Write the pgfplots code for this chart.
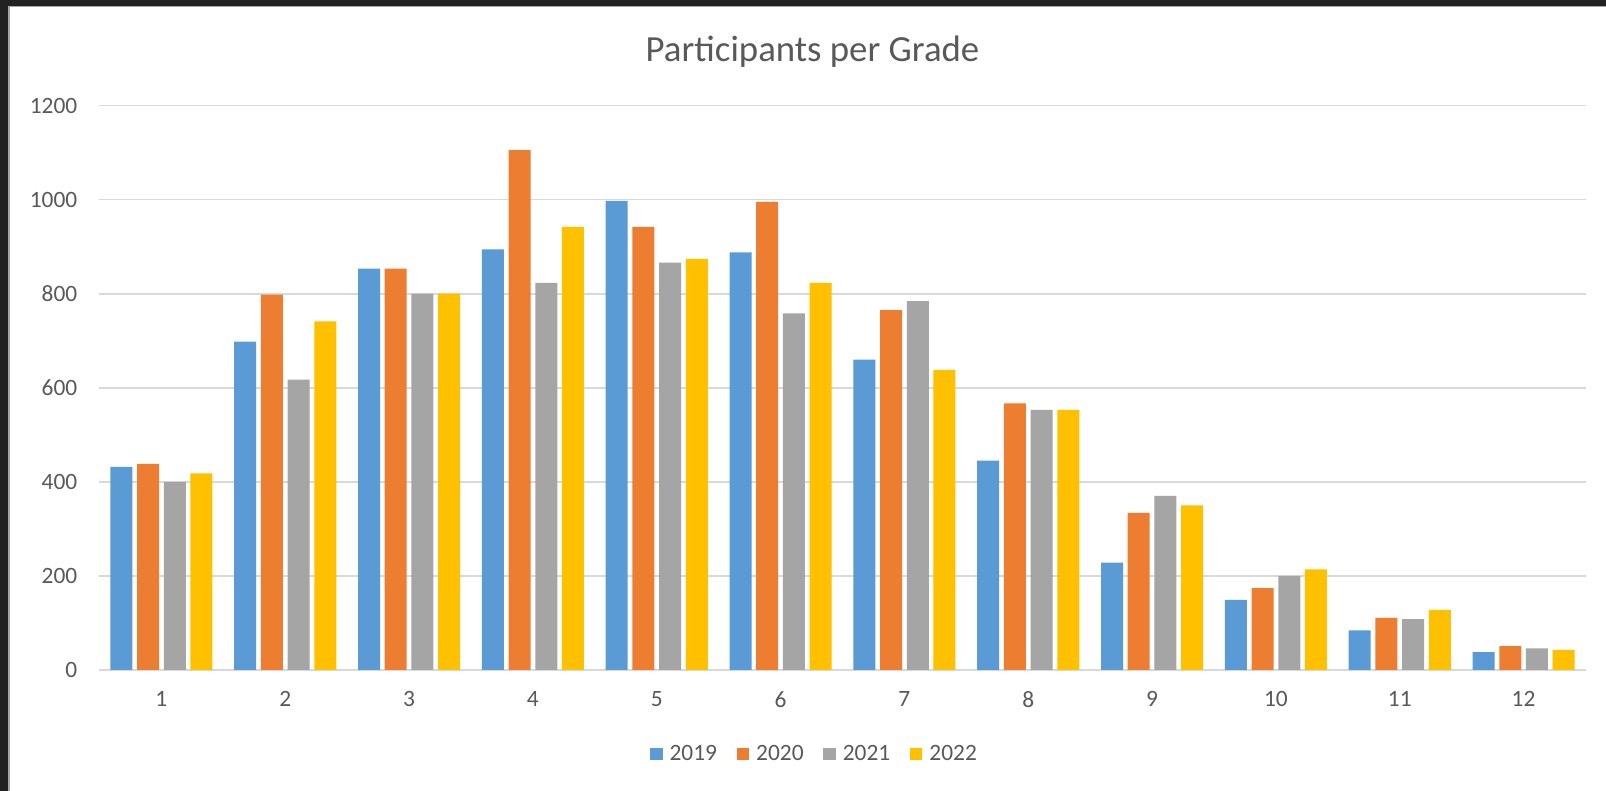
\documentclass[border=0pt]{standalone}
\usepackage{fontspec}
\setmainfont{Carlito}
\usepackage{pgfplots}
\pgfplotsset{compat=1.18}
\definecolor{cblue}{HTML}{5B9BD5}
\definecolor{corange}{HTML}{ED7D31}
\definecolor{cgray}{HTML}{A5A5A5}
\definecolor{cyellow}{HTML}{FFC000}
\definecolor{ctext}{HTML}{595959}
\definecolor{cgrid}{HTML}{D9D9D9}
\definecolor{cdark}{HTML}{222222}
\pgfplotsset{sqlegend/.style={legend image code/.code={\fill[##1] (0pt,-3.15pt) rectangle (6.3pt,3.15pt);}}}
\begin{document}
\begin{tikzpicture}
% background (white chart area with dark screenshot border at top and left)
\fill[white] (0,0) rectangle (803pt,395.5pt);
\fill[cdark] (0,0) rectangle (4pt,395.5pt);
\fill[cdark] (0,392.5pt) rectangle (803pt,395.5pt);
\fill[gray!70] (4pt,0) rectangle (5pt,392.5pt);
\fill[gray!70] (4pt,392pt) rectangle (803pt,392.5pt);
\node[anchor=base, text=ctext, font=\fontsize{18.4}{22}\selectfont] at (406.25pt,364.5pt) {Participants per Grade};
\begin{axis}[
  at={(49.75pt,60.5pt)}, anchor=south west,
  scale only axis, width=743pt, height=282.25pt,
  ybar=2.35pt, bar width=11pt,
  xmin=0.5, xmax=12.5, ymin=0, ymax=1200,
  xtick={1,...,12}, ytick={0,200,...,1200},
  axis lines*=left,
  y axis line style={draw=none},
  x axis line style={draw=cgrid, line width=0.9pt},
  major tick length=0pt,
  ymajorgrids, grid style={draw=cgrid, line width=0.9pt},
  /pgf/number format/assume math mode=true,
  /pgf/number format/1000 sep={},
  tick label style={text=ctext, font=\fontsize{11.7}{14}\selectfont},
  xticklabel style={yshift=-7.2pt},
  yticklabel style={xshift=-7.6pt},
  legend columns=4,
  legend style={draw=none, fill=none, at={(0.4828,-0.1488)}, anchor=center,
    font=\fontsize{11.7}{14}\selectfont, text=ctext,
    nodes={inner sep=3.5pt},
    /tikz/every even column/.append style={column sep=6.3pt}},
  legend cell align=left,
]
\addplot[fill=cblue, draw=none, sqlegend] coordinates {(1,432) (2,698) (3,853) (4,894) (5,997) (6,888) (7,660) (8,445) (9,228) (10,149) (11,84) (12,38)};
\addplot[fill=corange, draw=none, sqlegend] coordinates {(1,438) (2,798) (3,853) (4,1105) (5,942) (6,995) (7,765) (8,567) (9,334) (10,174) (11,111) (12,51)};
\addplot[fill=cgray, draw=none, sqlegend] coordinates {(1,400) (2,617) (3,800) (4,823) (5,866) (6,758) (7,784) (8,553) (9,370) (10,200) (11,108) (12,46)};
\addplot[fill=cyellow, draw=none, sqlegend] coordinates {(1,418) (2,741) (3,800) (4,942) (5,874) (6,823) (7,638) (8,553) (9,350) (10,214) (11,128) (12,43)};
\legend{2019,2020,2021,2022}
\end{axis}
\pgfresetboundingbox
\path[use as bounding box] (0,0) rectangle (803pt,395.5pt);
\end{tikzpicture}
\end{document}
